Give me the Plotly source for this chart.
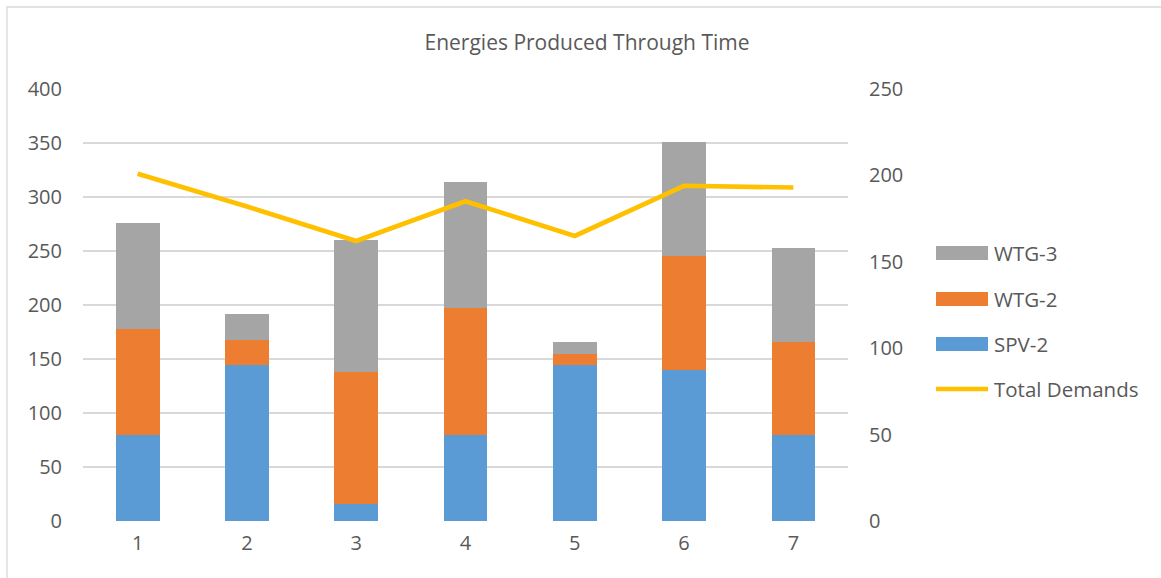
import plotly.graph_objects as go

# ---- data -------------------------------------------------------------
periods = [1, 2, 3, 4, 5, 6, 7]
spv2 = [80, 144, 16, 80, 144, 140, 80]
wtg2 = [98, 24, 122, 117, 11, 105, 86]
wtg3 = [98, 24, 122, 117, 11, 106, 87]
total_demands = [201, 182, 162, 185, 165, 194, 193]

series_names = ["SPV-2", "WTG-2", "WTG-3", "Total Demands"]
left_ticks = [0, 50, 100, 150, 200, 250, 300, 350, 400]
right_ticks = [0, 50, 100, 150, 200, 250]

# ---- styling ----------------------------------------------------------
W, H = 1161, 578
ML, MR, MT, MB = 83, 313, 89, 57
PW, PH = W - ML - MR, H - MT - MB
FONT = "Open Sans"
TXT = "#595959"
GRID = "#d9d9d9"
colors = {"SPV-2": "#5b9bd5", "WTG-2": "#ed7d31", "WTG-3": "#a5a5a5",
          "Total Demands": "#ffc000"}


def px(x):
    return (x - ML) / PW


def py(y):
    return (H - MB - y) / PH


fig = go.Figure()

for name, vals in zip(series_names[:3], [spv2, wtg2, wtg3]):
    fig.add_trace(go.Bar(
        x=periods, y=vals, name=name, marker_color=colors[name],
        marker_line_width=0, showlegend=False, yaxis="y",
    ))

fig.add_trace(go.Scatter(
    x=periods, y=total_demands, name="Total Demands", mode="lines",
    line=dict(color=colors["Total Demands"], width=4.7),
    showlegend=False, yaxis="y2",
))

# ---- legend drawn as swatches + labels --------------------------------
shapes = [
    # chart-area frame
    dict(type="rect", xref="paper", yref="paper",
         x0=px(7), y0=py(H + 20), x1=px(W + 20), y1=py(7),
         line=dict(color=GRID, width=1.3), fillcolor="rgba(0,0,0,0)",
         layer="below"),
]
annotations = []
legend_rows = [("WTG-3", 253), ("WTG-2", 299), ("SPV-2", 344), ("Total Demands", 389)]
for name, yc in legend_rows:
    if name == "Total Demands":
        shapes.append(dict(type="line", xref="paper", yref="paper",
                           x0=px(936), x1=px(988), y0=py(yc), y1=py(yc),
                           line=dict(color=colors[name], width=4.7)))
    else:
        shapes.append(dict(type="rect", xref="paper", yref="paper",
                           x0=px(936), x1=px(988), y0=py(yc + 7), y1=py(yc - 7),
                           line=dict(width=0), fillcolor=colors[name]))
    annotations.append(dict(xref="paper", yref="paper", x=px(992), y=py(yc),
                            text=name, showarrow=False, xanchor="left",
                            yanchor="middle",
                            font=dict(family=FONT, size=20.5, color=TXT)))

fig.update_layout(
    width=W, height=H,
    margin=dict(l=ML, r=MR, t=MT, b=MB, pad=0),
    paper_bgcolor="white", plot_bgcolor="white",
    barmode="stack", bargap=0.6,
    font=dict(family=FONT, size=20, color=TXT),
    title=dict(text="Energies Produced Through Time", x=587 / W, xref="container",
               xanchor="center", y=1 - 43 / H, yref="container", yanchor="middle",
               font=dict(family=FONT, size=21, color=TXT)),
    xaxis=dict(range=[0.5, 7.5], tickvals=periods, ticktext=[str(p) for p in periods],
               showgrid=False, zeroline=False, showline=False, ticks="",
               ticklabelstandoff=8),
    yaxis=dict(range=[0, 400], tickvals=left_ticks, showgrid=True, gridcolor=GRID,
               gridwidth=1.5, zeroline=False, showline=False, ticks="",
               ticklabelstandoff=20),
    yaxis2=dict(range=[0, 250], tickvals=right_ticks, overlaying="y", side="right",
                showgrid=False, zeroline=False, showline=False, ticks="",
                ticklabelstandoff=20),
    shapes=shapes, annotations=annotations,
    showlegend=False,
)

fig.write_html("out.html")
